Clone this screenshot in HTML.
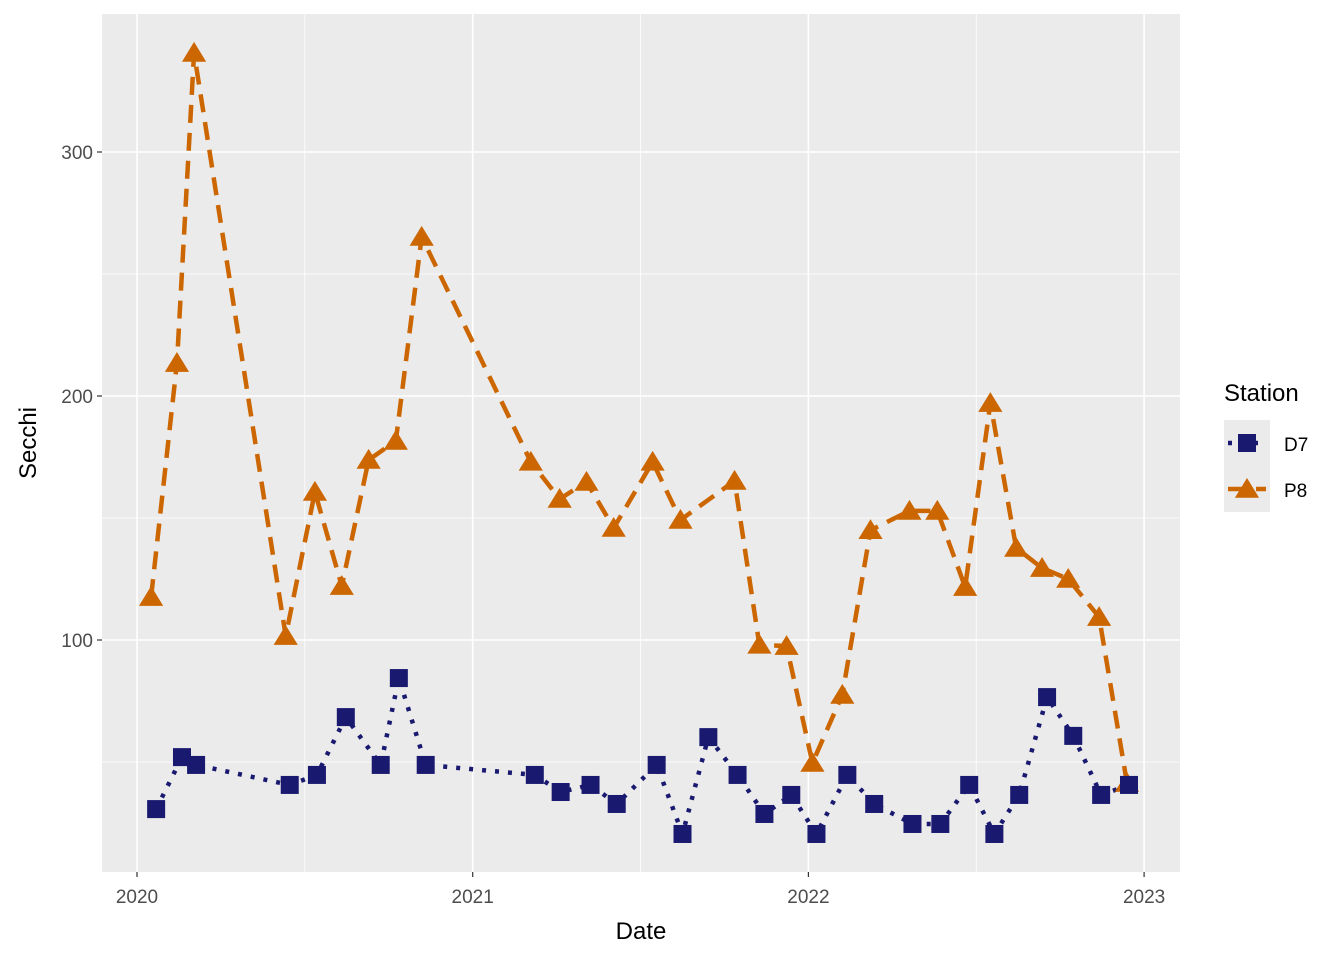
<!DOCTYPE html>
<html><head><meta charset="utf-8"><style>
body{margin:0;background:#fff;}
svg{display:block;font-family:"Liberation Sans",Arial,sans-serif;}
</style></head><body>
<svg id="chart" width="1344" height="960"></svg>
<script>
const d7Dates=[2020.057,2020.134,2020.176,2020.455,2020.536,2020.622,2020.726,2020.780,2020.860,2021.185,2021.262,2021.351,2021.429,2021.548,2021.625,2021.702,2021.789,2021.869,2021.949,2022.024,2022.116,2022.196,2022.310,2022.393,2022.479,2022.554,2022.628,2022.711,2022.789,2022.872,2022.955];
const d7Values=[30.7,52,48.8,40.6,44.7,68.4,48.8,84.4,48.8,44.7,37.7,40.6,32.8,48.8,20.5,60.2,44.7,28.7,36.5,20.5,44.7,32.8,24.6,24.6,40.6,20.5,36.5,76.6,60.7,36.5,40.6];
const p8Dates=[2020.042,2020.119,2020.170,2020.443,2020.530,2020.610,2020.690,2020.771,2020.848,2021.173,2021.259,2021.339,2021.420,2021.536,2021.619,2021.780,2021.854,2021.935,2022.012,2022.101,2022.185,2022.301,2022.384,2022.467,2022.542,2022.619,2022.696,2022.774,2022.866,2022.949];
const p8Values=[117.6,213.5,340.6,101.6,160.7,122.1,173.8,181.6,265.2,173,157.8,164.8,145.9,173,149.2,165.2,98,97.5,49.6,77.5,145,152.9,152.9,121.7,197.1,137.7,129.5,125,109.4,41.4];
const xTicks=[2020,2021,2022,2023];
const yTicks=[100,200,300];
const NS='http://www.w3.org/2000/svg';
const svg=document.getElementById('chart');
const L=102,R=1180,T=14,B=872;
const x=d=>137+(d-2020)*335.7;
const y=v=>640-(v-100)*2.44;
function el(tag,attrs,parent){const e=document.createElementNS(NS,tag);for(const k in attrs)e.setAttribute(k,attrs[k]);(parent||svg).appendChild(e);return e;}
const panel=el('rect',{x:L,y:T,width:R-L,height:B-T,fill:'#EBEBEB'});


// minor grid
[50,150,250].forEach(v=>{const g=el('line',{x1:L,x2:R,y1:y(v),y2:y(v),stroke:'#fff','stroke-width':0.8});

});
[2020.5,2021.5,2022.5].forEach(v=>{const g=el('line',{x1:x(v),x2:x(v),y1:T,y2:B,stroke:'#fff','stroke-width':0.8});

});
yTicks.forEach(v=>{const g=el('line',{x1:L,x2:R,y1:y(v),y2:y(v),stroke:'#fff','stroke-width':1.6});


el('line',{x1:L-5,x2:L,y1:y(v),y2:y(v),stroke:'#333','stroke-width':1.2});
const t=el('text',{x:L-9,y:y(v)+7,'text-anchor':'end','font-size':19,fill:'#4D4D4D'});t.textContent=v;

});
xTicks.forEach(v=>{const g=el('line',{x1:x(v),x2:x(v),y1:T,y2:B,stroke:'#fff','stroke-width':1.6});


el('line',{x1:x(v),x2:x(v),y1:B,y2:B+5,stroke:'#333','stroke-width':1.2});
const t=el('text',{x:x(v),y:B+31,'text-anchor':'middle','font-size':19,fill:'#4D4D4D'});t.textContent=v;

});
function pts(ds,vs){return ds.map((d,i)=>x(d)+','+y(vs[i])).join(' ');}
const lp=el('polyline',{points:pts(p8Dates,p8Values),fill:'none',stroke:'#CC6600','stroke-width':4.5,'stroke-dasharray':'18 10'});


const ld=el('polyline',{points:pts(d7Dates,d7Values),fill:'none',stroke:'#191970','stroke-width':4.5,'stroke-dasharray':'4 9'});


function tri(cx,cy,s){return `${cx},${cy-s} ${cx-s*1.1},${cy+s*0.8} ${cx+s*1.1},${cy+s*0.8}`;}
p8Dates.forEach((d,i)=>{const m=el('polygon',{points:tri(x(d),y(p8Values[i]),11),fill:'#CC6600'});

});
d7Dates.forEach((d,i)=>{const m=el('rect',{x:x(d)-9,y:y(d7Values[i])-9,width:18,height:18,fill:'#191970'});

});
const xt=el('text',{x:641,y:939,'text-anchor':'middle','font-size':24,fill:'#000'});xt.textContent='Date';


const yt=el('text',{x:0,y:0,transform:'translate(36,443) rotate(-90)','text-anchor':'middle','font-size':24,fill:'#000'});yt.textContent='Secchi';


const lt=el('text',{x:1224,y:401,'font-size':24,fill:'#000'});lt.textContent='Station';


[['D7','#191970','4 9',443],['P8','#CC6600','18 10',489]].forEach(([n,c,da,cy])=>{
const k=el('rect',{x:1224,y:cy-23,width:46,height:46,fill:'#EBEBEB'});


el('line',{x1:1228,x2:1266,y1:cy,y2:cy,stroke:c,'stroke-width':4.5,'stroke-dasharray':da});
if(n==='D7')el('rect',{x:1238,y:cy-9,width:18,height:18,fill:c});else el('polygon',{points:tri(1247,cy,11),fill:c});
const t=el('text',{x:1284,y:cy+8,'font-size':19,fill:'#000'});t.textContent=n;

});
</script>
</body></html>
